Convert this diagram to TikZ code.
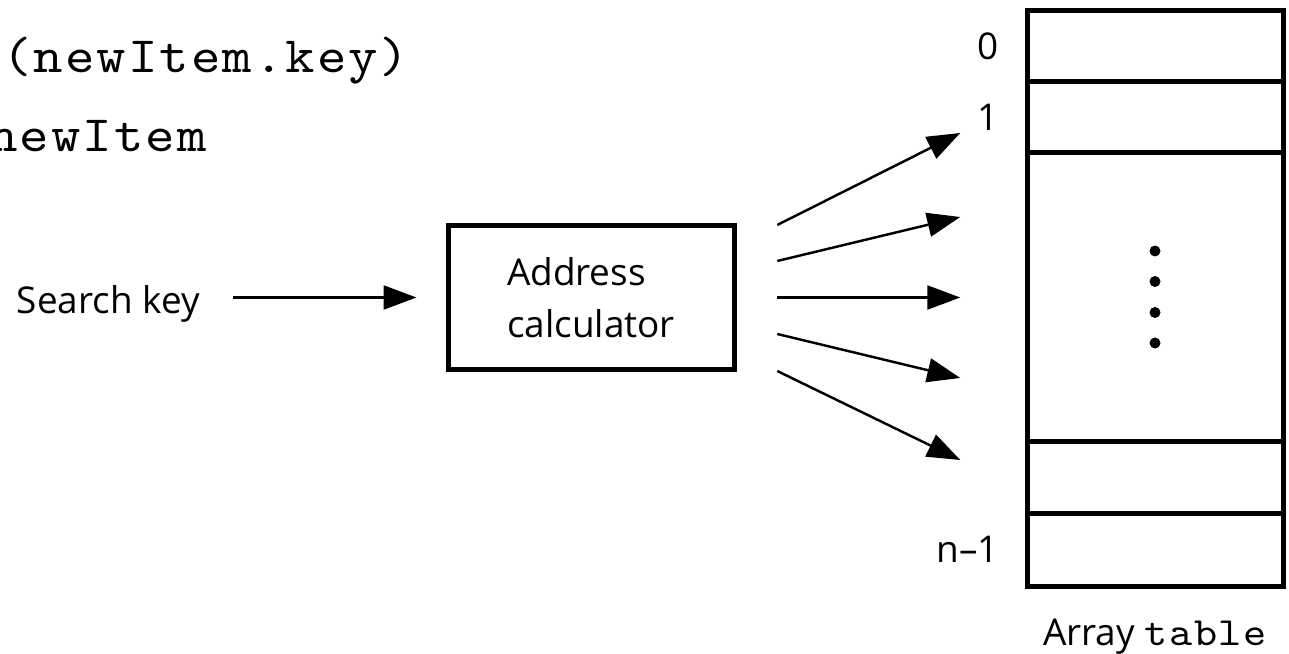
\documentclass[tikz,border=0pt]{standalone}
\usepackage{fontspec}
\setmainfont{Open Sans}
\newfontfamily\codefont[FakeStretch=1.1,LetterSpace=4]{lmmono10-regular.otf}
\usetikzlibrary{calc,positioning,arrows.meta}

\begin{document}
\begin{tikzpicture}[
	arr/.style={-{Triangle[length=0.66cm,width=0.48cm]}, line width=1.4pt},
	cell/.style={draw, line width=0.1cm, minimum width=5.12cm, outer sep=0pt, inner sep=0pt},
	code/.style={font=\fontsize{29pt}{29pt}\codefont, inner sep=0pt},
	txt/.style={font=\fontsize{21pt}{29.6pt}\selectfont, inner sep=0pt}
	]
			\useasboundingbox (0,0) rectangle (25.78,-13.08);
			
			%code lines at the top
			\node[code, anchor=base west] (call) at (0.04,-1.46) {(newItem.key)};
			\node[code, anchor=base east] (item) at (4.14,-3.04) {newItem};
			
			%search key and address calculator
			\node[txt, anchor=base east] (key) at (4.0,-6.26) {Search key};
			\node[txt, draw, line width=0.1cm, minimum width=5.72cm, minimum height=2.86cm, align=left] (addr) at (11.82,-5.95) {Address\\calculator};
			\draw[arr, shorten <=0.66cm, shorten >=0.58cm] (key.east |- addr.west) -- (addr.west);
			
			%the array cells
			\node[cell, minimum height=1.42cm] (c0) at (23.1,-0.93) {};
			\node[cell, minimum height=1.42cm, below=0pt of c0] (c1) {};
			\node[cell, minimum height=5.76cm, below=0pt of c1] (c2) {};
			\node[cell, minimum height=1.44cm, below=0pt of c2] (c3) {};
			\node[cell, minimum height=1.46cm, below=0pt of c3] (c4) {};
			\foreach \d in {0.92,0.31,-0.31,-0.92}
				\fill ($(c2.center)+(0,\d)$) circle (0.11);
			
			%indices and name of the array
			\node[txt, left=0.56cm of c0.west] (i0) {0};
			\node[txt, left=0.56cm of c1.west] (i1) {1};
			\node[txt, left=0.56cm of c4.west] (in) {n--1};
			\node[txt, anchor=base] (name) at ($(c4.south)+(0,-1.18)$) {Array {\fontsize{22.8pt}{22.8pt}\codefont table}};
			
			%arrows out of the calculator
			\foreach \s/\t in {1.45/3.29, 0.73/1.61, 0/0, -0.73/-1.61, -1.47/-3.25}
				\draw[arr] ($(addr.east)+(0.815,\s)$) -- ($(addr.east)+(4.475,\t)$);
		\end{tikzpicture}
\end{document}
